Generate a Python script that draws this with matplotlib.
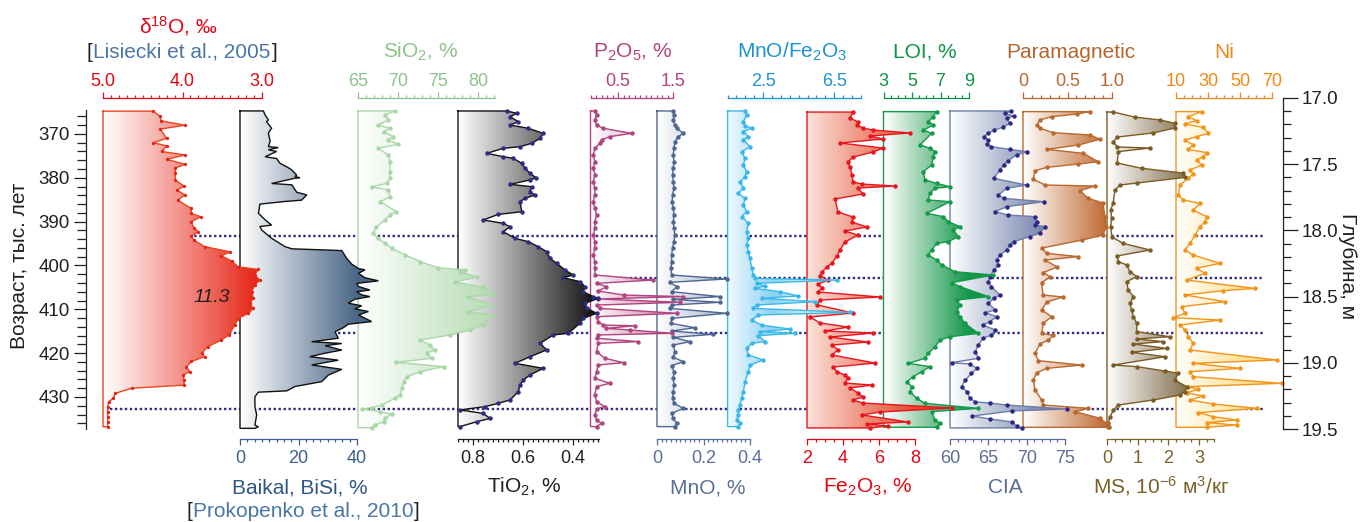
import numpy as np
import matplotlib
matplotlib.use("Agg")
import matplotlib.pyplot as plt
from matplotlib.colors import LinearSegmentedColormap
from matplotlib.patches import Polygon

plt.rcParams['font.family'] = ['Liberation Sans', 'Noto Sans', 'DejaVu Sans']
plt.rcParams['mathtext.fontset'] = 'custom'
plt.rcParams['mathtext.rm'] = 'Liberation Sans'
plt.rcParams['mathtext.it'] = 'Liberation Sans:italic'
plt.rcParams['mathtext.bf'] = 'Liberation Sans:bold'

# ---------------- data (age in ka, depth in m) ----------------
d18o_age = [364.8, 366.0, 367.0, 368.0, 368.9, 371.0, 372.0, 372.7, 374.0, 374.8,
            375.8, 376.9, 377.8, 379.0, 380.5, 381.9, 382.8, 383.9, 385.1, 387.0,
            388.1, 388.9, 390.0, 391.4, 392.3, 393.3, 394.2, 395.7, 396.9, 397.8,
            399.0, 400.3, 400.9, 402.2, 403.3, 404.5, 406.0, 407.5, 408.6, 409.8,
            410.9, 412.1, 413.6, 415.9, 417.0, 418.5, 420.0, 420.8, 421.9, 423.1,
            424.2, 425.0, 426.1, 427.3, 428.0, 429.2, 430.3, 431.1, 432.2, 433.4,
            434.5, 435.6, 436.8]
d18o = [4.37, 4.28, 4.27, 3.97, 4.28, 4.20, 4.37, 4.20, 4.26, 3.97,
        4.20, 3.97, 4.09, 4.09, 4.09, 3.98, 4.07, 3.97, 4.06, 3.89,
        3.89, 3.77, 3.89, 3.86, 3.80, 3.89, 3.86, 3.72, 3.40, 3.51,
        3.38, 3.30, 3.05, 3.09, 3.03, 3.09, 3.13, 3.11, 3.15, 3.11,
        3.17, 3.30, 3.34, 3.42, 3.51, 3.68, 3.76, 3.72, 3.89, 3.95,
        3.91, 3.99, 3.98, 3.98, 4.64, 4.85, 4.87, 4.93, 4.94, 4.94,
        4.94, 4.94, 4.94]

bisi_age = [364.75, 365.7, 366.8, 367.2, 368.7, 369.8, 371.7, 372.9, 373.1, 373.6,
            374.0, 375.2, 375.6, 376.7, 377.5, 378.2, 379.4, 379.7, 380.0, 380.1,
            381.3, 381.6, 383.3, 383.9, 385.1, 385.4, 386.0, 388.1, 389.6, 390.8,
            391.1, 391.9, 393.8, 395.7, 396.2, 396.6, 398.4, 399.7, 400.7, 401.0,
            401.8, 402.8, 403.5, 404.1, 404.8, 405.6, 406.0, 406.7, 407.1, 407.7,
            408.6, 409.2, 409.9, 410.5, 411.3, 412.8, 413.4, 414.2, 415.1, 416.6,
            417.4, 417.8, 418.3, 419.3, 420.0, 420.8, 421.6, 422.7, 423.7, 425.0,
            426.5, 427.6, 428.6, 428.9, 429.9, 432.2, 434.1, 436.4, 436.8, 437.15]
bisi = [8.0, 8.6, 9.7, 9.1, 10.8, 9.7, 10.3, 9.7, 13.1, 9.7,
        12.5, 8.6, 12.5, 13.7, 16.0, 17.7, 19.4, 18.8, 20.5, 18.8,
        10.8, 17.7, 19.4, 22.8, 21.1, 15.4, 6.8, 6.3, 8.6, 10.8,
        6.8, 7.4, 10.8, 15.4, 17.7, 34.8, 36.5, 38.2, 40.5, 42.7,
        40.5, 42.7, 47.3, 39.9, 40.5, 44.4, 39.9, 41.6, 44.4, 39.3,
        37.0, 41.6, 39.3, 43.9, 40.5, 45.0, 37.0, 35.3, 32.5, 33.6,
        24.5, 34.8, 29.1, 34.8, 29.1, 23.9, 33.6, 24.5, 34.8, 30.2,
        27.9, 18.8, 16.0, 6.3, 5.1, 5.1, 5.7, 5.1, 6.3, 5.1]

sio2_depth = [17.098, 17.128, 17.166, 17.204, 17.229, 17.254, 17.292, 17.317, 17.35, 17.38,
              17.43, 17.481, 17.556, 17.607, 17.645, 17.67, 17.695, 17.745, 17.783, 17.859,
              17.884, 17.921, 17.972, 18.022, 18.06, 18.098, 18.135, 18.186, 18.236, 18.282,
              18.299, 18.314, 18.352, 18.39, 18.428, 18.48, 18.503, 18.563, 18.616, 18.639,
              18.715, 18.752, 18.79, 18.828, 18.865, 18.903, 18.928, 18.966, 18.997, 19.029,
              19.067, 19.105, 19.142, 19.193, 19.243, 19.268, 19.319, 19.339, 19.349, 19.369,
              19.389, 19.419, 19.445, 19.47, 19.49]
sio2 = [69.6, 68.4, 68.8, 67.5, 69.0, 68.2, 69.4, 68.8, 70.0, 67.5,
        68.8, 69.0, 69.0, 69.0, 68.6, 66.7, 68.8, 69.0, 67.8, 69.8,
        69.0, 68.4, 67.3, 66.9, 67.5, 68.4, 69.2, 70.9, 72.8, 75.0,
        78.4, 77.8, 79.9, 77.1, 80.6, 81.9, 78.8, 81.8, 78.8, 81.9,
        80.6, 79.0, 76.5, 72.8, 74.0, 74.6, 73.6, 74.2, 69.8, 75.7,
        72.8, 71.1, 70.7, 70.5, 70.3, 69.6, 68.0, 66.7, 65.5, 67.8,
        69.2, 68.4, 68.2, 67.1, 66.7]

tio2_depth = [17.098, 17.116, 17.141, 17.179, 17.204, 17.229, 17.267, 17.305, 17.342, 17.368,
              17.38, 17.418, 17.443, 17.456, 17.494, 17.531, 17.569, 17.602, 17.619, 17.652,
              17.67, 17.707, 17.733, 17.758, 17.783, 17.859, 17.879, 17.921, 17.947, 17.972,
              18.01, 18.06, 18.085, 18.123, 18.161, 18.211, 18.249, 18.299, 18.337, 18.357,
              18.387, 18.425, 18.463, 18.5, 18.513, 18.551, 18.589, 18.626, 18.664, 18.702,
              18.777, 18.79, 18.853, 18.903, 18.954, 19.004, 19.042, 19.092, 19.13, 19.168,
              19.218, 19.281, 19.306, 19.331, 19.356, 19.382, 19.42, 19.445, 19.482]
tio2 = [0.665, 0.625, 0.652, 0.619, 0.652, 0.579, 0.519, 0.532, 0.565, 0.612,
        0.679, 0.745, 0.679, 0.639, 0.605, 0.592, 0.572, 0.548, 0.572, 0.652,
        0.565, 0.572, 0.552, 0.592, 0.612, 0.605, 0.699, 0.759, 0.679, 0.652,
        0.679, 0.632, 0.579, 0.539, 0.505, 0.492, 0.465, 0.432, 0.399, 0.439,
        0.372, 0.352, 0.359, 0.319, 0.299, 0.352, 0.345, 0.305, 0.359, 0.372,
        0.419, 0.479, 0.532, 0.505, 0.572, 0.632, 0.519, 0.572, 0.599, 0.612,
        0.619, 0.652, 0.699, 0.752, 0.852, 0.759, 0.732, 0.785, 0.852]

p2o5_depth = [17.098, 17.128, 17.166, 17.204, 17.229, 17.267, 17.292, 17.317, 17.342, 17.38,
              17.43, 17.481, 17.531, 17.582, 17.632, 17.682, 17.733, 17.783, 17.833, 17.884,
              17.934, 17.984, 18.035, 18.085, 18.135, 18.186, 18.236, 18.286, 18.337, 18.375,
              18.4, 18.425, 18.458, 18.488, 18.5, 18.518, 18.543, 18.564, 18.589, 18.626,
              18.652, 18.689, 18.715, 18.72, 18.74, 18.752, 18.777, 18.79, 18.815, 18.84,
              18.853, 18.916, 18.966, 18.999, 19.017, 19.067, 19.117, 19.155, 19.18, 19.243,
              19.293, 19.331, 19.349, 19.394, 19.432, 19.457, 19.482]
p2o5 = [0.08, 0.11, 0.08, 0.11, 0.23, 0.75, 0.35, 0.20, 0.17, 0.08,
        0.05, 0.08, 0.05, 0.08, 0.05, 0.08, 0.08, 0.05, 0.08, 0.11,
        0.08, 0.08, 0.05, 0.08, 0.08, 0.05, 0.08, 0.08, 0.08, 1.14,
        0.11, 0.29, 0.14, 0.60, 1.69, 0.14, 1.63, 0.11, 0.17, 1.57,
        0.11, 0.14, 0.23, 0.81, 0.29, 0.72, 1.48, 0.14, 0.11, 0.87,
        0.14, 0.11, 0.26, 0.60, 0.14, 0.11, 0.08, 0.35, 0.11, 0.08,
        0.11, 0.26, 0.11, 0.08, 0.11, 0.20, 0.11]

mno_depth = [17.098, 17.128, 17.166, 17.204, 17.229, 17.267, 17.292, 17.33, 17.38, 17.43,
             17.481, 17.531, 17.582, 17.632, 17.682, 17.733, 17.783, 17.833, 17.884, 17.934,
             17.984, 18.035, 18.085, 18.135, 18.186, 18.236, 18.286, 18.337, 18.367, 18.392,
             18.425, 18.463, 18.5, 18.521, 18.543, 18.564, 18.589, 18.626, 18.664, 18.702,
             18.735, 18.76, 18.785, 18.808, 18.84, 18.866, 18.916, 18.959, 18.991, 19.022,
             19.067, 19.117, 19.168, 19.218, 19.268, 19.306, 19.344, 19.382, 19.42, 19.457,
             19.482]
mno = [0.070, 0.073, 0.070, 0.077, 0.085, 0.113, 0.092, 0.077, 0.073, 0.070,
       0.073, 0.070, 0.067, 0.070, 0.073, 0.067, 0.065, 0.070, 0.073, 0.070,
       0.073, 0.077, 0.073, 0.067, 0.063, 0.063, 0.060, 0.063, 0.300, 0.056,
       0.085, 0.063, 0.271, 0.070, 0.271, 0.063, 0.056, 0.300, 0.063, 0.060,
       0.163, 0.063, 0.242, 0.070, 0.142, 0.070, 0.077, 0.070, 0.113, 0.063,
       0.073, 0.070, 0.073, 0.070, 0.067, 0.073, 0.113, 0.063, 0.070, 0.085,
       0.077]

mnofe_depth = [17.098, 17.128, 17.179, 17.209, 17.229, 17.254, 17.292, 17.317, 17.368, 17.405,
               17.456, 17.506, 17.556, 17.594, 17.632, 17.682, 17.72, 17.758, 17.808, 17.859,
               17.896, 17.947, 18.01, 18.06, 18.11, 18.161, 18.211, 18.286, 18.337, 18.362,
               18.375, 18.4, 18.42, 18.438, 18.463, 18.495, 18.513, 18.538, 18.564, 18.589,
               18.619, 18.639, 18.677, 18.715, 18.745, 18.765, 18.777, 18.795, 18.84, 18.853,
               18.891, 18.941, 18.979, 19.017, 19.067, 19.142, 19.218, 19.268, 19.319, 19.356,
               19.394, 19.432, 19.457, 19.482]
mnofe = [1.48, 1.57, 1.39, 1.48, 1.86, 1.39, 1.67, 1.39, 1.76, 1.29,
         1.48, 1.39, 1.57, 1.48, 1.20, 1.39, 1.10, 1.48, 1.39, 1.57,
         1.29, 1.67, 1.57, 1.67, 1.57, 1.67, 1.76, 1.86, 1.95, 2.04,
         6.64, 2.14, 2.61, 2.04, 3.45, 4.49, 2.42, 5.42, 2.14, 1.95,
         7.40, 2.23, 1.86, 2.42, 4.02, 2.33, 4.30, 2.23, 2.61, 1.86,
         1.57, 1.67, 2.51, 1.76, 1.67, 1.48, 1.39, 1.29, 1.20, 1.10,
         1.10, 1.01, 1.20, 1.10]

fe2o3_depth = [17.106, 17.151, 17.181, 17.204, 17.227, 17.242, 17.264, 17.287, 17.31, 17.34,
               17.378, 17.408, 17.446, 17.483, 17.521, 17.582, 17.634, 17.65, 17.665, 17.68,
               17.725, 17.763, 17.861, 17.899, 17.937, 17.974, 18.005, 18.035, 18.088, 18.148,
               18.193, 18.246, 18.276, 18.314, 18.344, 18.375, 18.405, 18.435, 18.465, 18.503,
               18.526, 18.563, 18.624, 18.654, 18.699, 18.73, 18.76, 18.775, 18.805, 18.843,
               18.866, 18.903, 18.941, 19.002, 19.032, 19.069, 19.092, 19.115, 19.153, 19.168,
               19.19, 19.228, 19.258, 19.281, 19.304, 19.341, 19.372, 19.394, 19.447, 19.462,
               19.477, 19.492]
fe2o3 = [4.56, 4.39, 4.83, 4.78, 5.11, 5.67, 7.72, 5.50, 6.22, 3.83,
         6.22, 5.67, 4.56, 4.28, 4.39, 4.50, 4.56, 5.06, 6.89, 4.83,
         5.11, 3.56, 3.72, 4.56, 4.50, 5.33, 4.11, 4.83, 4.11, 3.83,
         3.67, 3.39, 3.11, 2.83, 2.72, 3.17, 2.61, 2.83, 2.61, 6.06,
         2.72, 2.56, 4.56, 2.17, 2.72, 4.28, 3.00, 5.67, 3.28, 5.39,
         3.39, 3.72, 3.39, 5.78, 3.44, 3.67, 4.11, 4.28, 4.11, 5.61,
         4.39, 4.83, 5.11, 4.56, 5.11, 10.06, 6.06, 5.06, 7.61, 5.33,
         6.50, 5.50]

loi_depth = [17.103, 17.141, 17.179, 17.204, 17.242, 17.267, 17.355, 17.38, 17.405, 17.443,
             17.506, 17.556, 17.619, 17.645, 17.67, 17.682, 17.72, 17.77, 17.783, 17.871,
             17.896, 17.934, 17.972, 17.997, 18.047, 18.085, 18.098, 18.148, 18.186, 18.224,
             18.261, 18.312, 18.337, 18.395, 18.425, 18.5, 18.526, 18.563, 18.614, 18.652,
             18.702, 18.778, 18.803, 18.828, 18.878, 18.929, 18.966, 19.004, 19.029, 19.067,
             19.105, 19.143, 19.18, 19.218, 19.268, 19.306, 19.344, 19.369, 19.432, 19.457,
             19.487]
loi = [6.73, 6.50, 6.15, 6.50, 5.80, 6.38, 5.56, 6.26, 6.61, 6.50,
       6.38, 5.80, 5.91, 6.73, 7.67, 6.61, 6.26, 6.15, 7.67, 6.03,
       7.20, 7.55, 8.37, 7.90, 8.25, 7.55, 6.73, 6.38, 6.15, 6.73,
       7.08, 8.02, 10.71, 7.78, 8.37, 10.36, 8.13, 8.37, 8.13, 8.37,
       8.72, 9.65, 7.67, 6.97, 6.61, 6.15, 5.91, 4.74, 6.26, 5.68,
       5.09, 4.63, 4.98, 4.86, 5.33, 5.91, 9.65, 6.38, 6.61, 6.97,
       6.73]

cia_depth = [17.098, 17.116, 17.136, 17.154, 17.191, 17.222, 17.242, 17.267, 17.292, 17.317,
             17.347, 17.368, 17.388, 17.405, 17.43, 17.473, 17.506, 17.544, 17.607, 17.657,
             17.682, 17.733, 17.758, 17.783, 17.821, 17.859, 17.884, 17.896, 17.934, 17.959,
             17.972, 18.022, 18.047, 18.085, 18.11, 18.148, 18.186, 18.224, 18.261, 18.299,
             18.349, 18.387, 18.425, 18.488, 18.513, 18.551, 18.601, 18.621, 18.652, 18.689,
             18.715, 18.752, 18.79, 18.815, 18.866, 18.916, 18.966, 18.999, 19.009, 19.042,
             19.08, 19.13, 19.18, 19.218, 19.268, 19.296, 19.304, 19.319, 19.349, 19.364,
             19.402, 19.424, 19.447, 19.477, 19.492]
cia = [68.0, 67.2, 68.3, 67.4, 67.8, 66.9, 65.7, 65.0, 64.4, 65.0,
       64.8, 65.4, 67.8, 70.0, 68.7, 67.6, 67.0, 66.5, 65.7, 70.0,
       67.4, 66.3, 67.0, 72.2, 67.4, 65.9, 67.6, 71.1, 71.3, 71.1,
       72.4, 71.7, 70.4, 68.3, 67.8, 67.4, 66.5, 66.1, 66.3, 65.7,
       65.2, 65.0, 65.4, 66.5, 65.7, 65.0, 65.9, 64.6, 66.1, 65.2,
       64.3, 65.9, 65.4, 64.3, 63.7, 63.3, 63.7, 60.2, 62.6, 63.5,
       62.8, 62.0, 61.5, 62.2, 62.6, 63.3, 65.2, 67.4, 75.2, 68.1,
       62.9, 65.2, 68.1, 68.7, 69.4]

para_depth = [17.103, 17.121, 17.141, 17.166, 17.204, 17.229, 17.262, 17.279, 17.312, 17.355,
              17.388, 17.418, 17.481, 17.499, 17.524, 17.549, 17.614, 17.657, 17.665, 17.70,
              17.758, 17.793, 17.896, 17.972, 18.035, 18.073, 18.133, 18.173, 18.198, 18.224,
              18.276, 18.319, 18.35, 18.395, 18.488, 18.503, 18.541, 18.601, 18.652, 18.702,
              18.778, 18.793, 18.828, 18.858, 18.929, 18.984, 19.017, 19.042, 19.075, 19.13,
              19.205, 19.281, 19.319, 19.344, 19.369, 19.419, 19.457, 19.487]
para = [0.753, 0.603, 0.322, 0.191, 0.154, 0.191, 0.341, 0.753, 0.865, 0.622,
        0.266, 0.678, 0.846, 0.622, 0.266, 0.135, 0.116, 0.247, 0.809, 0.640,
        0.734, 0.899, 0.921, 0.933, 0.899, 0.663, 0.213, 0.266, 0.622, 0.247,
        0.382, 0.228, 0.303, 0.210, 0.225, 0.449, 0.266, 0.210, 0.322, 0.228,
        0.210, 0.341, 0.285, 0.191, 0.135, 0.172, 0.659, 0.266, 0.154, 0.116,
        0.135, 0.210, 0.228, 0.734, 0.584, 0.865, 0.940, 0.959]

ms_depth = [17.106, 17.144, 17.166, 17.191, 17.227, 17.264, 17.295, 17.332, 17.37, 17.378,
            17.405, 17.491, 17.531, 17.567, 17.60, 17.642, 17.657, 17.695, 17.793, 17.846,
            17.909, 17.972, 18.05, 18.098, 18.148, 18.193, 18.236, 18.261, 18.312, 18.349,
            18.387, 18.45, 18.50, 18.551, 18.601, 18.652, 18.702, 18.765, 18.803, 18.82,
            18.84, 18.858, 18.891, 18.921, 18.954, 19.017, 19.029, 19.062, 19.08, 19.13,
            19.18, 19.218, 19.243, 19.281, 19.319, 19.357, 19.407, 19.457, 19.487]
ms = [0.20, 0.91, 1.73, 2.21, 2.21, 1.50, 0.33, 0.21, 0.33, 1.40,
      0.37, 0.33, 1.13, 2.48, 2.54, 0.98, 0.42, 0.26, 0.20, 0.12,
      0.15, 0.12, 0.16, 0.53, 1.40, 0.33, 0.37, 0.64, 0.75, 0.97,
      0.64, 0.69, 0.86, 0.75, 0.80, 0.86, 0.97, 0.97, 2.05, 0.97,
      1.83, 0.86, 1.94, 0.80, 1.89, 0.21, 0.97, 1.89, 2.32, 2.21,
      2.59, 2.54, 2.38, 1.51, 0.37, 0.21, 0.10, 0.04, 0.08]

ni_depth = [17.103, 17.141, 17.171, 17.196, 17.222, 17.267, 17.292, 17.317, 17.355, 17.388,
            17.413, 17.443, 17.468, 17.506, 17.544, 17.574, 17.607, 17.657, 17.733, 17.77,
            17.796, 17.846, 17.896, 17.934, 17.972, 18.035, 18.098, 18.148, 18.186, 18.249,
            18.286, 18.324, 18.375, 18.438, 18.455, 18.488, 18.538, 18.576, 18.626, 18.659,
            18.677, 18.715, 18.752, 18.803, 18.853, 18.903, 18.979, 19.004, 19.042, 19.067,
            19.105, 19.155, 19.18, 19.20, 19.226, 19.251, 19.281, 19.311, 19.344, 19.377,
            19.407, 19.432, 19.452, 19.47, 19.487]
ni = [26.0, 17.7, 22.9, 15.6, 27.1, 30.2, 22.9, 15.6, 20.8, 17.7,
      29.2, 27.1, 22.9, 26.0, 18.8, 20.8, 17.7, 12.5, 11.5, 14.6,
      25.0, 20.8, 29.2, 28.1, 25.0, 21.9, 18.8, 15.6, 20.8, 37.5,
      22.9, 28.1, 16.7, 59.4, 39.6, 15.6, 40.6, 13.5, 15.6, 8.3,
      37.5, 12.5, 15.6, 17.7, 20.8, 18.8, 72.9, 20.8, 50.0, 18.8,
      20.8, 76.0, 17.7, 24.0, 16.7, 27.1, 18.8, 33.3, 60.4, 24.0,
      33.3, 47.9, 29.2, 47.9, 29.2]

# boundaries (depth, m) drawn as dotted lines
boundaries = [18.04, 18.36, 18.775, 19.35]

# ---------------- layout ----------------
W, H = 1361, 522
Y_TOP, Y_BOT = 98, 429
DEPTH_LIM = (19.5, 17.0)
AGE_LIM = (437.3, 361.8)
INK = '#231F20'

fig = plt.figure(figsize=(W / 100, H / 100), dpi=100)


def ftext(x, y, s, **kw):
    kw.setdefault('ha', 'center')
    kw.setdefault('va', 'baseline')
    kw.setdefault('fontsize', 15)
    return fig.text(x / W, 1 - y / H, s, **kw)


def track(x0, x1, xlim, yv, xv, ylim, line, fill, z, side, major, labels, minor,
          dots=None, tick=None, msz=3.2, lw=1.0):
    ax = fig.add_axes([x0 / W, 1 - Y_BOT / H, (x1 - x0) / W, (Y_BOT - Y_TOP) / H], zorder=z)
    ax.patch.set_visible(False)
    base = xlim[0]
    yv = np.asarray(yv, float)
    xv = np.asarray(xv, float)
    px = np.r_[base, xv, base, base]
    py = np.r_[yv[0], yv, yv[-1], yv[0]]
    poly = Polygon(np.column_stack([px, py]), closed=True, fc='none', ec='none')
    ax.add_patch(poly)
    reach = 1.8
    t = np.clip(np.linspace(0, reach, 600), 0, 1)[None, :]
    cmap = LinearSegmentedColormap.from_list('g', fill)
    end = xlim[0] + (xlim[1] - xlim[0]) * reach
    im = ax.imshow(t, extent=[xlim[0], end, ylim[0], ylim[1]], aspect='auto', cmap=cmap,
                   vmin=0, vmax=1, interpolation='bilinear', zorder=1)
    im.set_clip_path(poly)
    im.set_clip_box(fig.bbox)
    ax.plot(px, py, color=line, lw=lw, clip_on=False, zorder=2, solid_joinstyle='miter')
    if dots:
        ax.plot(xv, yv, 'o', ms=msz, mfc=dots, mec='none', clip_on=False, zorder=3)
    ax.set_xlim(*xlim)
    ax.set_ylim(*ylim)
    tick = tick or line
    for s in ax.spines.values():
        s.set_visible(False)
    sp = ax.spines[side]
    sp.set_visible(True)
    sp.set_color(tick)
    sp.set_linewidth(0.9)
    if side == 'bottom':
        sp.set_position(('outward', 7.5))
    ax.xaxis.set_ticks_position(side)
    ax.set_xticks(major, labels)
    ax.set_xticks(minor, minor=True)
    ax.set_yticks([])
    ax.tick_params(axis='x', which='both', direction='out', color=tick, labelcolor=tick,
                   width=0.9, labelsize=13)
    ax.tick_params(axis='x', which='major', length=4.5, pad=1.5 if side == 'top' else 3)
    ax.tick_params(axis='x', which='minor', length=2.5)
    return ax


def rng(a, b, s):
    return np.round(np.arange(a, b + s / 2, s), 4)


# background dotted boundaries
ax_bg = fig.add_axes([0, 1 - Y_BOT / H, 1, (Y_BOT - Y_TOP) / H], zorder=0)
ax_bg.axis('off')
ax_bg.set_xlim(0, W)
ax_bg.set_ylim(*DEPTH_LIM)
line_start = [105, 590, 105, 105]
for d, x0 in zip(boundaries, line_start):
    ax_bg.plot([x0, 1263], [d, d], color='#2E2A87', lw=1.7, ls=(0, (1, 1.1)))

RED = '#E30613'
ax1 = track(103, 262, (5.0, 3.0), d18o_age, d18o, AGE_LIM, '#E8461E',
            ['#FFFFFF', '#E61E0E'], 22, 'top', [5.0, 4.0, 3.0], ['5.0', '4.0', '3.0'],
            rng(3.0, 5.0, 0.1), dots='#E2231A', tick=RED, msz=2.4)
ax1.text(3.63, 407.3, '11.3', fontstyle='italic', fontsize=14, color=INK,
         ha='center', va='center', zorder=5)

BISI_C = '#3A5F8C'
track(240, 357, (0, 40), bisi_age, bisi, AGE_LIM, '#111111',
      ['#FFFFFF', '#4B6786'], 21, 'bottom', [0, 20, 40], ['0', '20', '40'],
      rng(0, 40, 2.5), tick=BISI_C)

GREEN_L = '#8DC38C'
track(358, 495, (65, 82.125), sio2_depth, sio2, DEPTH_LIM, '#A9D7A7',
      ['#FFFFFF', '#B3DBB1'], 20, 'top', [65, 70, 75, 80], ['65', '70', '75', '80'],
      rng(65, 82, 1), dots='#A9D7A7', tick=GREEN_L)

track(458, 599, (0.86, 0.296), tio2_depth, tio2, DEPTH_LIM, '#111111',
      ['#FFFFFF', '#0A0A0A'], 19, 'bottom', [0.8, 0.6, 0.4], ['0.8', '0.6', '0.4'],
      rng(0.30, 0.86, 0.02), dots='#2E2A87', tick=INK)

MAG = '#B0447F'
track(590.5, 673, (0, 1.5), p2o5_depth, p2o5, DEPTH_LIM, '#B0447F',
      ['#FFFFFF', '#C8769F'], 18, 'top', [0.5, 1.5], ['0.5', '1.5'],
      rng(0, 1.5, 0.1), dots='#B0447F', tick=MAG)

MNO_C = '#5A6F98'
track(657, 750, (0, 0.4), mno_depth, mno, DEPTH_LIM, '#4F6690',
      ['#FFFFFF', '#8393B7'], 17, 'bottom', [0, 0.2, 0.4], ['0', '0.2', '0.4'],
      rng(0, 0.4, 0.02), dots='#4F6690', tick=MNO_C)

BLUE = '#1E93D3'
track(727.6, 860.8, (0.5, 8.0), mnofe_depth, mnofe, DEPTH_LIM, '#38B8EA',
      ['#F2FAFE', '#8DD3F3', '#DDF1FB', '#F4FBFE'], 16, 'top', [2.5, 6.5], ['2.5', '6.5'],
      rng(0.5, 8.0, 0.5), dots='#38B8EA', tick=BLUE)

track(807, 915, (2, 8), fe2o3_depth, fe2o3, DEPTH_LIM, '#E8141E',
      ['#FBE2D8', '#E4472B'], 15, 'bottom', [2, 4, 6, 8], ['2', '4', '6', '8'],
      rng(2, 8, 0.5), dots='#E8141E', tick=RED)

GREEN = '#0B9444'
track(883.5, 969, (3, 9), loi_depth, loi, DEPTH_LIM, '#119A48',
      ['#FFFFFF', '#129647'], 14, 'top', [3, 5, 7, 9], ['3', '5', '7', '9'],
      rng(3, 9, 0.5), dots='#119A48', tick=GREEN)

CIA_C = '#5A6E98'
track(950, 1065, (60, 75), cia_depth, cia, DEPTH_LIM, '#6C7DA8',
      ['#FFFFFF', '#56699A'], 13, 'bottom', [60, 65, 70, 75], ['60', '65', '70', '75'],
      rng(60, 75, 1), dots='#2E2785', tick=CIA_C)

BROWN = '#B7652E'
track(1023, 1112, (0, 1.0), para_depth, para, DEPTH_LIM, '#B9692F',
      ['#FFFFFF', '#BC6025'], 12, 'top', [0, 0.5, 1.0], ['0', '0.5', '1.0'],
      rng(0, 1.0, 0.1), dots='#B9692F', tick=BROWN)

MS_C = '#7A6128'
track(1107, 1214.5, (0, 3.5), ms_depth, ms, DEPTH_LIM, '#7A5C25',
      ['#FFFFFF', '#5A4014'], 11, 'bottom', [0, 1, 2, 3], ['0', '1', '2', '3'],
      rng(0, 3.5, 0.25), dots='#7A5C25', tick=MS_C)

ORANGE = '#F08A12'
track(1176, 1272, (10, 70), ni_depth, ni, DEPTH_LIM, '#F39419',
      ['#FFFFFF', '#FFD466'], 10, 'top', [10, 30, 50, 70], ['10', '30', '50', '70'],
      rng(10, 70, 5), dots='#F39419', tick=ORANGE)

# ---------------- age axis (left) ----------------
ax_age = fig.add_axes([76 / W, 1 - Y_BOT / H, 10 / W, (Y_BOT - Y_TOP) / H], zorder=30)
ax_age.patch.set_visible(False)
ax_age.set_ylim(*AGE_LIM)
for s in ['top', 'left', 'bottom']:
    ax_age.spines[s].set_visible(False)
ax_age.spines['right'].set_bounds(364.5, 437.3)
ax_age.spines['right'].set_linewidth(0.9)
ax_age.spines['right'].set_color(INK)
ax_age.set_xticks([])
ax_age.yaxis.set_ticks_position('right')
ax_age.set_yticks([370, 380, 390, 400, 410, 420, 430])
ax_age.set_yticks(rng(366, 436, 2), minor=True)
ax_age.tick_params(axis='y', which='both', direction='in', color=INK, width=0.9,
                   labelleft=True, labelright=False, labelsize=13.5, labelcolor=INK)
ax_age.tick_params(axis='y', which='major', length=9, pad=4.5)
ax_age.tick_params(axis='y', which='minor', length=6.5)

# ---------------- depth axis (right) ----------------
ax_dep = fig.add_axes([1283 / W, 1 - Y_BOT / H, 10 / W, (Y_BOT - Y_TOP) / H], zorder=30)
ax_dep.patch.set_visible(False)
ax_dep.set_ylim(*DEPTH_LIM)
for s in ['top', 'right', 'bottom']:
    ax_dep.spines[s].set_visible(False)
ax_dep.spines['left'].set_linewidth(0.9)
ax_dep.spines['left'].set_color(INK)
ax_dep.set_xticks([])
ax_dep.set_yticks([17.0, 17.5, 18.0, 18.5, 19.0, 19.5], ['17.0', '17.5', '18.0', '18.5', '19.0', '19.5'])
ax_dep.set_yticks(rng(17.0, 19.5, 0.1), minor=True)
ax_dep.tick_params(axis='y', which='both', direction='in', color=INK, width=0.9,
                   labelleft=False, labelright=True, labelsize=13.5, labelcolor=INK)
ax_dep.tick_params(axis='y', which='major', length=11, pad=6)
ax_dep.tick_params(axis='y', which='minor', length=6)

# ---------------- labels ----------------
ftext(20, 266, 'Возраст, тыс. лет', rotation=90, va='center', color=INK)
ftext(1347, 266, 'Глубина, м', rotation=-90, va='center', color=INK)

LIT = '#4A76A6'
ftext(178, 33, 'δ$^{18}$O, ‰', color=RED)
ftext(182, 57.5, 'Lisiecki et al., 2005', color=LIT)
ftext(92, 57.5, '[', color=INK, ha='right')
ftext(272, 57.5, ']', color=INK, ha='left')
ftext(421, 57.5, 'SiO$_2$, %', color=GREEN_L)
ftext(633, 57.5, 'P$_2$O$_5$, %', color=MAG)
ftext(792, 57.5, 'MnO/Fe$_2$O$_3$', color=BLUE)
ftext(925, 57.5, 'LOI, %', color=GREEN)
ftext(1071, 57.5, 'Paramagnetic', color=BROWN)
ftext(1224, 57.5, 'Ni', color=ORANGE)

ftext(300, 493, 'Baikal, BiSi, %', color='#2F5685')
ftext(303, 517, 'Prokopenko et al., 2010', color=LIT)
ftext(192, 517, '[', color=INK, ha='right')
ftext(414, 517, ']', color=INK, ha='left')
ftext(524, 493, 'TiO$_2$, %', color=INK)
ftext(708, 493, 'MnO, %', color=MNO_C)
ftext(868, 493, 'Fe$_2$O$_3$, %', color=RED)
ftext(1005, 493, 'CIA', color=CIA_C)
ftext(1161, 493, 'MS, 10$^{-6}$ м$^{3}$/кг', color=MS_C)

fig.savefig('out.png', dpi=100)
